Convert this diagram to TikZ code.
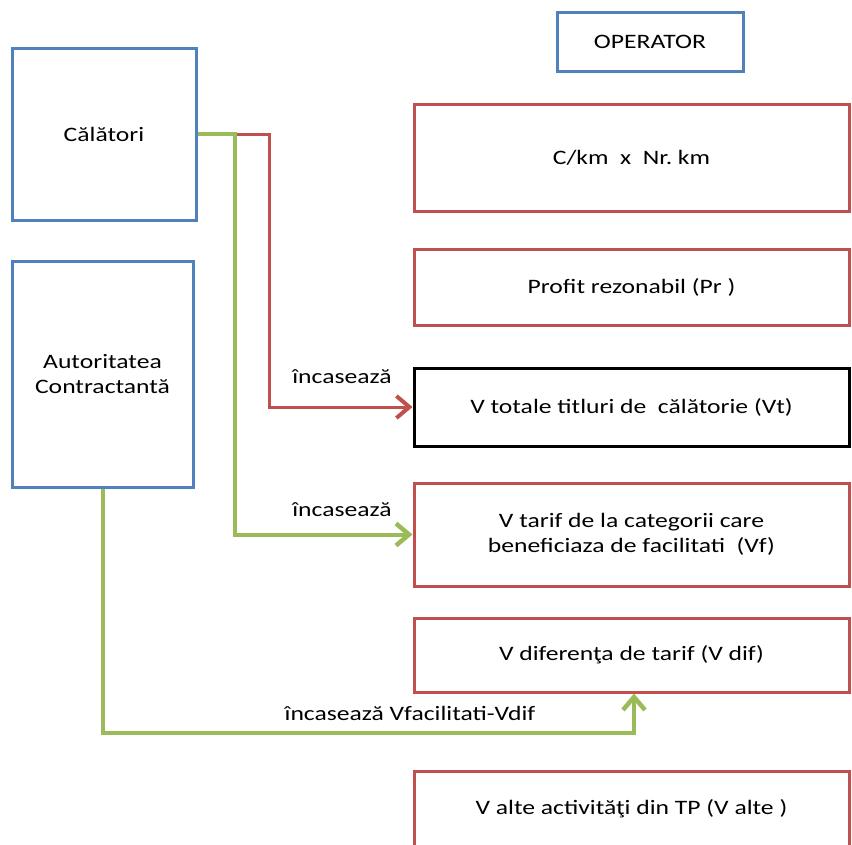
\documentclass[tikz,border=0pt]{standalone}
\usepackage{fontspec}
\setmainfont[FakeStretch=1.25]{Carlito}
\usetikzlibrary{arrows.meta}
\definecolor{cblue}{HTML}{4F81BD}
\definecolor{cred}{HTML}{C0504D}
\definecolor{cgreen}{HTML}{9BBB59}
\begin{document}
\begin{tikzpicture}[x=1pt,y=-1pt,
  every node/.style={font=\fontsize{20.5}{25}\selectfont, align=center, inner sep=0pt},
  bbox/.style={draw=cblue, line width=3pt, rectangle},
  rbox/.style={draw=cred, line width=3pt, rectangle, minimum width=435pt},
  kbox/.style={draw=black, line width=3pt, rectangle, minimum width=435pt},
  redline/.style={draw=cred, line width=3pt, -{Straight Barb[length=13pt,width=22pt,line width=4pt]}},
  greenline/.style={draw=cgreen, line width=4pt, -{Straight Barb[length=13pt,width=22pt,line width=4.5pt]}},
  lbl/.style={}]
\useasboundingbox (0,0) rectangle (852,844);
\node[bbox, minimum width=184pt, minimum height=172pt] (cal) at (104,134) {Călători};
\node[bbox, minimum width=181pt, minimum height=226pt] (aut) at (102.5,374) {Autoritatea\\Contractantă};
\node[bbox, minimum width=186pt, minimum height=59pt] (op) at (650,41.5) {OPERATOR};
\node[rbox, minimum height=107pt] (b1) at (631.5,157.5) {C/km\ \ x\ \ Nr.\ km};
\node[rbox, minimum height=76pt] (b2) at (631.5,287) {Profit rezonabil (Pr )};
\node[kbox, minimum height=78pt] (b3) at (631.5,407) {V totale titluri de\ \ călătorie (Vt)};
\node[rbox, minimum height=103pt] (b4) at (631.5,534.5) {V tarif de la categorii care\\beneficiaza de facilitati\ \ (Vf)};
\node[rbox, minimum height=74pt] (b5) at (631.5,655) {V diferenţa de tarif (V dif)};
\node[rbox, minimum height=75pt] (b6) at (631.5,808.5) {V alte activităţi din TP (V alte )};
\node[lbl] (l1) at (342,377) {încasează};
\node[lbl] (l2) at (342,510) {încasează};
\node[lbl] (l3) at (410,713) {încasează Vfacilitati-Vdif};
\coordinate (r1) at (269,134);
\coordinate (g1) at (235,134);
\coordinate (g2) at (634,733);
\draw[redline] (cal.east) -- (r1) |- (b3.west);
\draw[greenline] (cal.east) -- (g1) |- (b4.west);
\draw[greenline] (aut.south) |- (g2) -- (g2 |- b5.south);
\end{tikzpicture}
\end{document}
